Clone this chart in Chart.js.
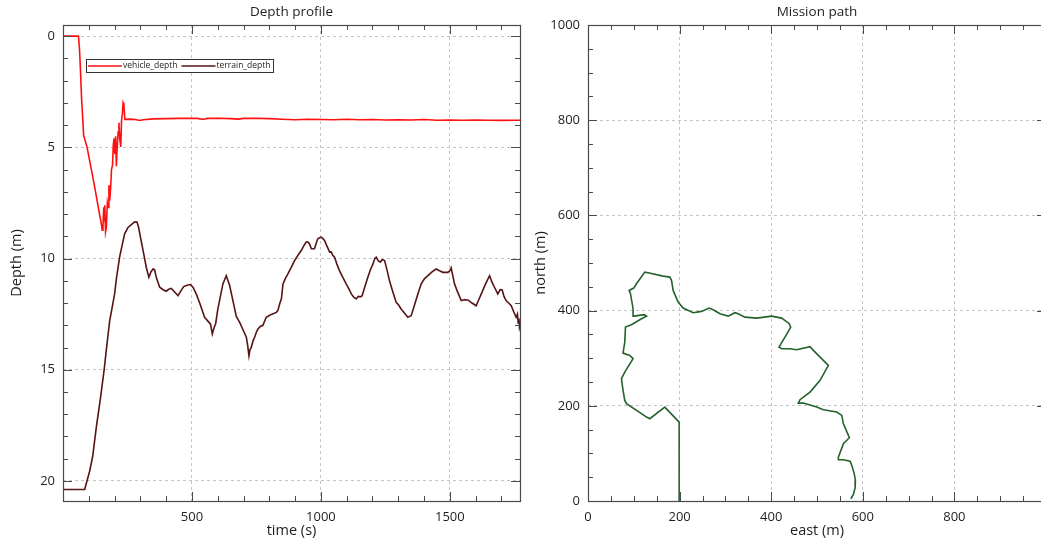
<!DOCTYPE html>
<html><head><meta charset="utf-8">
<script src="https://cdn.jsdelivr.net/npm/chart.js@4.4.1/dist/chart.umd.min.js"></script>
<style>
html,body{margin:0;padding:0;background:#fff;overflow:hidden;width:1041px;height:542px;}
#wrap{position:relative;width:1041px;height:542px;overflow:hidden;background:#fff;}
canvas{position:absolute;top:0;}
#c1{left:0;} #c2{left:525px;}
</style></head><body><div id="wrap"><canvas id="c1" width="525" height="542"></canvas><canvas id="c2" width="525" height="542"></canvas></div>
<script>
// ---------- data ----------
const depthTitle = 'Depth profile';
const pathTitle = 'Mission path';
const seriesNames = ['vehicle_depth', 'terrain_depth'];

const vehicleTime = [0, 60, 64, 68, 72, 76, 80, 86, 93, 110, 123, 140, 148, 152, 155, 158, 160, 162, 165, 168, 172, 175, 178, 181, 185, 188, 192, 195, 198, 201, 204, 207, 210, 214, 217, 220, 224, 227, 230, 233, 236, 240, 260, 280, 297, 310, 350, 400, 450, 500, 520, 530, 545, 560, 600, 650, 680, 700, 750, 800, 850, 900, 950, 1000, 1050, 1100, 1150, 1200, 1250, 1300, 1350, 1400, 1450, 1500, 1550, 1600, 1650, 1700, 1750, 1772];
const vehicleDepth = [0, 0, 0.6, 1.6, 2.8, 3.6, 4.46, 4.7, 4.98, 6.0, 6.8, 7.9, 8.4, 8.72, 8.55, 7.7, 8.3, 7.6, 8.8, 8.6, 7.5, 7.7, 6.7, 7.4, 6.77, 6.0, 5.8, 4.9, 4.6, 5.3, 4.5, 5.85, 5.0, 4.3, 3.9, 4.6, 4.98, 3.8, 3.5, 3.0, 3.1, 3.74, 3.73, 3.75, 3.79, 3.76, 3.72, 3.71, 3.70, 3.70, 3.69, 3.72, 3.74, 3.70, 3.69, 3.71, 3.73, 3.70, 3.69, 3.71, 3.74, 3.76, 3.74, 3.75, 3.76, 3.74, 3.76, 3.75, 3.77, 3.76, 3.77, 3.75, 3.78, 3.77, 3.78, 3.77, 3.78, 3.79, 3.78, 3.78];

const terrainTime = [0, 84, 103.5, 115, 129, 145, 159, 170, 181, 187.5, 200, 207, 220, 239, 252, 265, 278, 287, 293, 303, 313, 323, 333, 341, 349, 355, 363, 375, 388, 400, 410, 420, 433, 446, 457, 468, 481, 494, 504, 517, 530, 549, 566, 572, 579, 586, 592, 600, 607, 620, 633, 646, 659, 672, 685, 698, 711, 716, 721, 725, 730, 737, 743, 750, 756, 765, 775, 788, 798, 810, 827, 833, 840, 847, 853, 862, 872, 885, 898, 911, 924, 935, 943, 950, 956, 963, 970, 975, 982, 988, 995, 1001, 1008, 1014, 1024, 1034, 1040, 1046, 1053, 1062, 1072, 1085, 1098, 1108, 1118, 1128, 1137, 1145, 1153, 1160, 1171, 1182, 1192, 1202, 1209, 1215, 1222, 1230, 1238, 1247, 1256, 1266, 1279, 1292, 1302, 1311, 1324, 1337, 1344, 1350, 1360, 1370, 1380, 1389, 1402, 1415, 1431, 1447, 1460, 1473, 1492, 1500, 1505, 1512, 1518, 1530, 1544, 1557, 1570, 1586, 1602, 1612, 1622, 1638, 1654, 1663, 1673, 1686, 1695, 1703, 1710, 1718, 1728, 1738, 1748, 1757, 1762, 1765, 1768, 1770, 1772];
const terrainDepth = [20.38, 20.38, 19.55, 18.9, 17.6, 16.3, 15.05, 13.9, 12.8, 12.4, 11.6, 10.9, 9.9, 8.89, 8.6, 8.47, 8.35, 8.36, 8.59, 9.2, 9.79, 10.4, 10.84, 10.6, 10.47, 10.5, 10.9, 11.29, 11.4, 11.47, 11.38, 11.34, 11.5, 11.67, 11.45, 11.26, 11.2, 11.17, 11.29, 11.6, 12.0, 12.64, 12.87, 12.95, 13.39, 13.1, 12.93, 12.3, 11.89, 11.14, 10.77, 11.2, 11.9, 12.6, 12.87, 13.2, 13.54, 13.9, 14.37, 14.1, 14.0, 13.7, 13.54, 13.3, 13.17, 13.05, 13.0, 12.64, 12.57, 12.5, 12.42, 12.34, 12.04, 11.8, 11.14, 10.9, 10.69, 10.4, 10.09, 9.85, 9.64, 9.4, 9.26, 9.26, 9.34, 9.56, 9.56, 9.56, 9.3, 9.11, 9.06, 9.04, 9.1, 9.19, 9.45, 9.71, 9.7, 9.85, 9.94, 10.25, 10.54, 10.85, 11.14, 11.35, 11.59, 11.75, 11.82, 11.7, 11.72, 11.67, 11.25, 10.84, 10.5, 10.24, 10.0, 9.94, 10.1, 10.16, 10.05, 10.09, 10.5, 11.0, 11.5, 11.97, 12.1, 12.27, 12.45, 12.64, 12.6, 12.57, 12.2, 11.82, 11.45, 11.14, 10.9, 10.77, 10.6, 10.47, 10.55, 10.62, 10.62, 10.55, 10.42, 10.8, 11.14, 11.5, 11.89, 11.85, 11.86, 12.0, 12.12, 11.85, 11.59, 11.15, 10.77, 11.05, 11.29, 11.59, 11.4, 11.41, 11.7, 11.89, 12.0, 12.12, 12.4, 12.64, 12.5, 12.9, 12.7, 13.09, 13.0];

const pathEast = [200, 199, 167.7, 134.9, 127.7, 116.8, 84, 80.3, 76.5, 73, 80.3, 98.4, 91.2, 76.5, 80.3, 81.8, 94.8, 116.8, 127.7, 122.5, 99.9, 98.4, 92.7, 89.7, 99.9, 105.8, 124, 131.2, 164, 178.7, 182.4, 185.9, 196.8, 207.7, 229.6, 248, 264.6, 273.3, 288.1, 306.1, 320.8, 328, 342.7, 368.3, 401, 422.9, 439.5, 442.6, 432.3, 417, 422.9, 441, 455.7, 484.8, 492, 524.8, 506.7, 484.8, 462.9, 459.2, 470.2, 499.4, 513.9, 543.2, 554.1, 557.6, 570.7, 557.6, 546.7, 546.7, 557.6, 572.3, 576, 581, 583.9, 583.2, 579.5, 573.8];
const pathNorth = [0, 165.8, 197.3, 172.9, 176.3, 183.4, 204.4, 211.3, 232.4, 256.9, 270.8, 299, 305.9, 310.7, 333.8, 365.3, 370.4, 383, 388.4, 391.4, 388.4, 404, 435.5, 442.4, 447.3, 456.5, 480.9, 479.6, 472.5, 470.4, 463.4, 442.4, 417.9, 405.3, 395.6, 398.3, 405.3, 401.9, 393.5, 388.4, 395.6, 393.5, 386.3, 384.2, 388.4, 384.2, 372.5, 365.3, 347.9, 323.3, 320, 320, 317.9, 324.2, 316.4, 284.9, 253.4, 228.8, 212.8, 205.7, 205.7, 197.3, 191.8, 186.8, 179.8, 162.4, 133, 120.4, 92.2, 86.8, 86.8, 83.8, 74.8, 58.6, 43.3, 27.9, 13.9, 4.8];

const timeTicks = [0, 500, 1000, 1500];
const depthTicks = [0, 5, 10, 15, 20];
const eastTicks = [0, 200, 400, 600, 800];
const northTicks = [0, 200, 400, 600, 800, 1000];

// ---------- styling ----------
const FONT = "'Open Sans', 'DejaVu Sans', sans-serif";
const TXT = '#1e1e1e';
const AXIS = '#4a4a4a';
const GRID = '#c4c4c4';

const framePlugin = {
  id: 'frame',
  afterDraw(chart, args, o) {
    const {ctx, chartArea: a} = chart;
    const xs = chart.scales.x, ys = chart.scales.y;
    ctx.save();
    ctx.strokeStyle = AXIS;
    ctx.lineWidth = 1;
    ctx.beginPath();
    const n1 = Math.round((o.xTo - o.xFrom) / o.xMinor);
    for (let i = 0; i <= n1; i++) {
      const v = o.xFrom + i * o.xMinor;
      const len = (Math.round(v / o.xMinor) % o.xEvery === 0) ? 9 : 5;
      const p = Math.round(xs.getPixelForValue(v)) + 0.5;
      ctx.moveTo(p, a.bottom); ctx.lineTo(p, a.bottom - len);
      ctx.moveTo(p, a.top); ctx.lineTo(p, a.top + len);
    }
    const n2 = Math.round((o.yTo - o.yFrom) / o.yMinor);
    for (let i = 0; i <= n2; i++) {
      const v = o.yFrom + i * o.yMinor;
      const len = (Math.round(v / o.yMinor) % o.yEvery === 0) ? 9 : 5;
      const p = Math.round(ys.getPixelForValue(v)) + 0.5;
      ctx.moveTo(a.left, p); ctx.lineTo(a.left + len, p);
      ctx.moveTo(a.right, p); ctx.lineTo(a.right - len, p);
    }
    ctx.stroke();
    ctx.lineWidth = 1.2;
    ctx.strokeRect(Math.round(a.left) + 0.5, Math.round(a.top) + 0.5, Math.round(a.right - a.left), Math.round(a.bottom - a.top));
    // plot title
    ctx.fillStyle = TXT;
    ctx.font = '13.5px ' + FONT;
    ctx.textAlign = 'center';
    ctx.textBaseline = 'middle';
    ctx.fillText(o.title, (a.left + a.right) / 2, 12);
    // legend
    if (o.legend) {
      const L = o.legend;
      ctx.fillStyle = '#fff';
      ctx.fillRect(L.x, L.y, L.w, L.h);
      ctx.strokeStyle = '#333';
      ctx.lineWidth = 1;
      ctx.strokeRect(L.x + 0.5, L.y + 0.5, L.w, L.h);
      ctx.font = '8.5px ' + FONT;
      ctx.textAlign = 'left';
      ctx.textBaseline = 'middle';
      const cy = L.y + L.h / 2 + 0.5;
      let x = L.x + 2;
      chart.data.datasets.forEach(ds => {
        ctx.strokeStyle = ds.borderColor;
        ctx.lineWidth = 1.5;
        ctx.beginPath(); ctx.moveTo(x, cy); ctx.lineTo(x + 34, cy); ctx.stroke();
        ctx.fillStyle = TXT;
        ctx.fillText(ds.label, x + 35, cy);
        x += 35 + ctx.measureText(ds.label).width + 4;
      });
    }
    ctx.restore();
  }
};

const tickFont = {family: FONT, size: 13};
const titleFont = {family: FONT, size: 14.5};

function axis(opts) {
  return Object.assign({
    type: 'linear',
    border: {display: false, dash: [3, 3]},
    grid: {color: GRID, lineWidth: 1, drawTicks: false},
    ticks: {color: TXT, font: tickFont, padding: 8, autoSkip: false, maxRotation: 0, callback: v => String(v)},
  }, opts);
}

function setTicks(list) {
  return function (scale) { scale.ticks = list.map(v => ({value: v})); };
}

// ---------- chart 1 ----------
new Chart(document.getElementById('c1'), {
  type: 'scatter',
  data: {
    datasets: [
      {label: seriesNames[0], data: vehicleTime.map((t, i) => ({x: t, y: vehicleDepth[i]})), borderColor: '#ff1010', backgroundColor: '#ff1010', showLine: true, pointRadius: 0, borderWidth: 1.6, order: 1},
      {label: seriesNames[1], data: terrainTime.map((t, i) => ({x: t, y: terrainDepth[i]})), borderColor: '#561414', backgroundColor: '#561414', showLine: true, pointRadius: 0, borderWidth: 1.6, order: 2}
    ]
  },
  options: {
    responsive: false, animation: false, devicePixelRatio: 1,
    layout: {padding: {top: 25, right: 5, left: 0, bottom: 0}},
    plugins: {
      legend: {display: false}, tooltip: {enabled: false},
      frame: {title: depthTitle, xFrom: 0, xTo: 1700, xMinor: 100, xEvery: 5, yFrom: 0, yTo: 20, yMinor: 1, yEvery: 5,
        legend: {x: 86, y: 59, w: 187, h: 13}}
    },
    scales: {
      x: axis({min: 0, max: 1772, afterBuildTicks: setTicks(timeTicks), afterFit: s => { s.height = 41; },
        ticks: {color: TXT, font: tickFont, padding: 8, autoSkip: false, maxRotation: 0, callback: v => v === 0 ? '' : String(v)},
        title: {display: true, text: 'time (s)', color: TXT, font: titleFont, padding: {top: 0, bottom: 2}}}),
      y: axis({min: -0.5, max: 20.9, reverse: true, afterBuildTicks: setTicks(depthTicks), afterFit: s => { s.width = 63; },
        title: {display: true, text: 'Depth (m)', color: TXT, font: titleFont, padding: {top: 8, bottom: 0}}})
    }
  },
  plugins: [framePlugin]
});

// ---------- chart 2 ----------
new Chart(document.getElementById('c2'), {
  type: 'scatter',
  data: {
    datasets: [
      {label: 'path', data: pathEast.map((e, i) => ({x: e, y: pathNorth[i]})), borderColor: '#24622a', backgroundColor: '#24622a', showLine: true, pointRadius: 0, borderWidth: 1.6}
    ]
  },
  options: {
    responsive: false, animation: false, devicePixelRatio: 1,
    layout: {padding: {top: 25, right: 4, left: 0, bottom: 0}},
    plugins: {
      legend: {display: false}, tooltip: {enabled: false},
      frame: {title: pathTitle, xFrom: 0, xTo: 1000, xMinor: 50, xEvery: 4, yFrom: 0, yTo: 1000, yMinor: 50, yEvery: 4}
    },
    scales: {
      x: axis({min: 0, max: 1000, afterBuildTicks: setTicks(eastTicks), afterFit: s => { s.height = 41; },
        title: {display: true, text: 'east (m)', color: TXT, font: titleFont, padding: {top: 0, bottom: 2}}}),
      y: axis({min: 0, max: 1000, afterBuildTicks: setTicks(northTicks), afterFit: s => { s.width = 63; },
        title: {display: true, text: 'north (m)', color: TXT, font: titleFont, padding: {top: 7, bottom: 0}}})
    }
  },
  plugins: [framePlugin]
});
</script></body></html>
